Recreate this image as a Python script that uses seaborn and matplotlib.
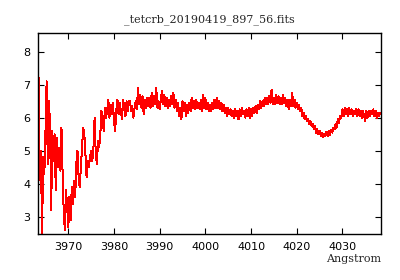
"""Spectrum plot of _tetcrb_20190419_897_56.fits (gnuplot-like look)."""
import matplotlib
matplotlib.use("Agg")

import matplotlib.pyplot as plt
import numpy as np
import seaborn as sns

# ---------------------------------------------------------------------------
# Data: flux, 0.25 A per sample, 5 A per block
# ---------------------------------------------------------------------------
WAVE_START = 3963.5
WAVE_STEP = 0.25

flux_3963 = [7.2, 4.1, 5.0, 2.5, 4.8, 4.3, 5.6, 7.1, 4.6, 6.5, 5.8, 3.2, 5.6, 4.7, 5.5, 3.8, 5.4, 4.5, 5.1, 4.4]
flux_3968 = [5.7, 4.3, 3.1, 2.6, 3.8, 3.3, 2.7, 3.6, 2.9, 3.9, 3.4, 4.1, 3.6, 4.6, 5.0, 4.2, 3.9, 4.5, 5.1, 5.7]
flux_3973 = [5.5, 4.9, 4.2, 4.7, 4.5, 4.8, 5.0, 4.7, 5.1, 6.0, 4.9, 4.6, 5.3, 5.1, 5.5, 6.2, 5.9, 5.6, 6.3, 6.0]
flux_3978 = [6.2, 6.55, 6.0, 6.4, 6.1, 6.45, 5.9, 5.6, 6.2, 6.55, 6.1, 6.45, 6.2, 5.95, 6.55, 6.25, 6.05, 6.5, 6.2, 6.5]
flux_3983 = [6.5, 6.2, 6.35, 6.0, 6.3, 6.5, 6.25, 6.9, 6.4, 6.7, 6.3, 6.65, 6.1, 6.55, 6.3, 6.6, 6.35, 6.6, 6.3, 6.75]
flux_3988 = [6.35, 6.65, 6.4, 6.9, 6.3, 6.5, 6.25, 6.55, 6.8, 6.4, 6.7, 6.35, 6.6, 6.3, 6.55, 6.35, 6.65, 6.4, 6.75, 6.3]
flux_3993 = [6.55, 6.2, 6.45, 6.05, 6.3, 5.95, 6.5, 6.2, 6.45, 6.05, 6.4, 6.15, 6.45, 6.2, 6.6, 6.3, 6.5, 6.25, 6.55, 6.3]
flux_3998 = [6.45, 6.25, 6.55, 6.2, 6.7, 6.3, 6.6, 6.25, 6.45, 6.2, 6.4, 6.2, 6.45, 6.25, 6.55, 6.3, 6.6, 6.3, 6.5, 6.25]
flux_4003 = [6.45, 6.2, 6.4, 6.15, 6.3, 6.05, 6.3, 6.1, 6.25, 6.05, 6.2, 6.0, 6.25, 6.05, 6.2, 5.95, 6.25, 6.05, 6.3, 6.1]
flux_4008 = [6.2, 6.0, 6.25, 6.05, 6.3, 6.0, 6.25, 6.05, 6.3, 6.15, 6.35, 6.15, 6.4, 6.25, 6.5, 6.3, 6.5, 6.35, 6.6, 6.4]
flux_4013 = [6.6, 6.4, 6.65, 6.45, 6.85, 6.4, 6.6, 6.4, 6.7, 6.45, 6.65, 6.4, 6.6, 6.4, 6.7, 6.45, 6.6, 6.35, 6.55, 6.25]
flux_4018 = [6.55, 6.35, 6.75, 6.35, 6.55, 6.3, 6.45, 6.25, 6.4, 6.2, 6.3, 6.05, 6.15, 5.95, 6.05, 5.9, 5.95, 5.8, 5.9, 5.75]
flux_4023 = [5.8, 5.65, 5.75, 5.55, 5.65, 5.5, 5.6, 5.45, 5.55, 5.42, 5.52, 5.45, 5.58, 5.45, 5.6, 5.48, 5.62, 5.55, 5.7, 5.65]
flux_4028 = [5.8, 5.7, 5.95, 5.85, 6.05, 6.0, 6.25, 6.05, 6.3, 6.1, 6.25, 6.05, 6.3, 6.1, 6.25, 6.05, 6.2, 6.1, 6.25, 6.05]
flux_4033 = [6.25, 6.05, 6.2, 6.0, 6.2, 6.05, 5.9, 6.2, 6.0, 6.2, 6.05, 6.2, 6.1, 6.25, 6.05, 6.2, 6.0, 6.15, 6.05, 6.15]

x_ticks = [3970, 3980, 3990, 4000, 4010, 4020, 4030]
y_ticks = [3, 4, 5, 6, 7, 8]

flux = np.array(
    flux_3963 + flux_3968 + flux_3973 + flux_3978 + flux_3983
    + flux_3988 + flux_3993 + flux_3998 + flux_4003 + flux_4008
    + flux_4013 + flux_4018 + flux_4023 + flux_4028 + flux_4033
)
# linear dispersion grid, as stored in the FITS header
wave = WAVE_START + WAVE_STEP * np.arange(len(flux))

# ---------------------------------------------------------------------------
# Plot
# ---------------------------------------------------------------------------
sns.set_style("ticks")

fig = plt.figure(figsize=(4, 2.8), dpi=100)
ax = fig.add_axes([0.096, 0.164, 0.856, 0.718])

sns.lineplot(x=wave, y=flux, color="red", lw=0.72, ax=ax, estimator=None,
             sort=False, antialiased=False)

ax.set_xlim(3963.45, 4038.4)
ax.set_ylim(2.48, 8.56)
ax.set_xticks(x_ticks)
ax.set_yticks(y_ticks)
ax.tick_params(direction="in", top=True, right=True, length=4, width=0.8,
               labelsize=8, colors="black", pad=6)
for spine in ax.spines.values():
    spine.set_visible(True)
    spine.set_linewidth(1.0)
    spine.set_color("black")

ax.set_title("_tetcrb_20190419_897_56.fits", fontsize=8, family="DejaVu Serif", pad=8)
ax.set_xlabel("Angstrom", fontsize=8, family="DejaVu Serif", loc="right", labelpad=1)
ax.set_ylabel("")

fig.savefig("out.png", dpi=100)
plt.close(fig)
